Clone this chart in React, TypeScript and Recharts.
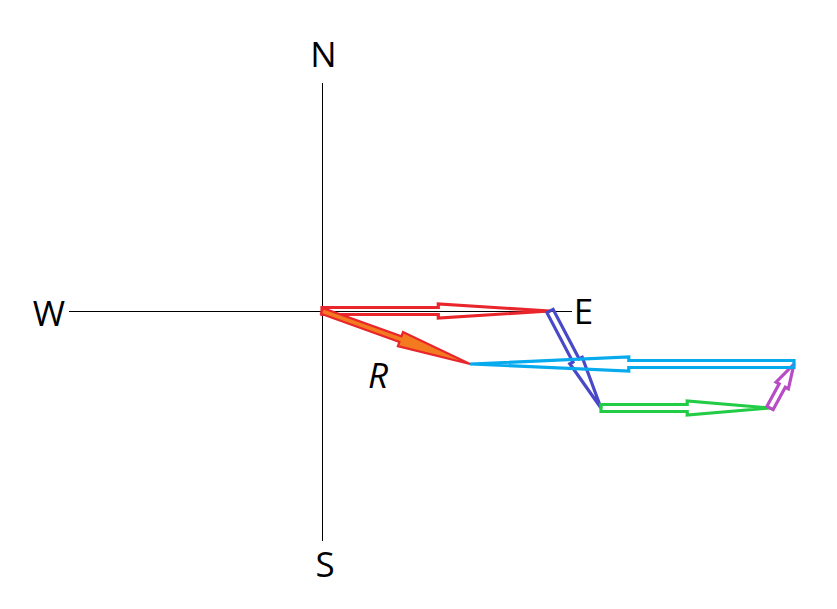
import { ScatterChart, Scatter, XAxis, YAxis, ReferenceLine } from "recharts";

// displacement vectors, chained head to tail (east +x, north +y)
const vectorNames = ["d1", "d2", "d3", "d4", "d5"];
const vectorDx = [22.8, 5.1, 16.9, 2.4, -32.4];
const vectorDy = [0, -9.7, 0, 4.4, 0];

// compass + resultant labels
const labelText = ["N", "S", "W", "E", "R"];
const labelX = [0.15, 0.3, -27.3, 26.15, 5.6];
const labelY = [25.75, -25.2, -0.15, 0.1, -6.3];

const colors = ["#e8262c", "#4848c8", "#22cc44", "#b84cc4", "#08aaee"];

// build chain of tail/tip points from the vectors
let cx = 0;
let cy = 0;
const chain = vectorNames.map((name, i) => {
  const tail = { x: cx, y: cy };
  cx += vectorDx[i];
  cy += vectorDy[i];
  return { name, data: [tail, { x: cx, y: cy }], color: colors[i] };
});
const resultant = [
  { x: 0, y: 0 },
  { x: cx, y: cy },
];

const labels = labelText.map((text, i) => ({ x: labelX[i], y: labelY[i], text }));

type Pt = { x: number; y: number };

const arrowPath = (a: Pt, b: Pt, shaftW: number, headW: number, headFrac: number) => {
  const dx = b.x - a.x;
  const dy = b.y - a.y;
  const len = Math.hypot(dx, dy) || 1;
  const ux = dx / len;
  const uy = dy / len;
  const nx = -uy;
  const ny = ux;
  const sx = a.x + ux * len * (1 - headFrac);
  const sy = a.y + uy * len * (1 - headFrac);
  const pts = [
    [a.x + nx * shaftW, a.y + ny * shaftW],
    [sx + nx * shaftW, sy + ny * shaftW],
    [sx + nx * headW, sy + ny * headW],
    [b.x, b.y],
    [sx - nx * headW, sy - ny * headW],
    [sx - nx * shaftW, sy - ny * shaftW],
    [a.x - nx * shaftW, a.y - ny * shaftW],
  ];
  return "M" + pts.map((p) => p[0].toFixed(2) + "," + p[1].toFixed(2)).join("L") + "Z";
};

const NoDot = () => <g />;

const App = () => {
  return (
    <div style={{ position: "absolute", left: 0, top: 0 }}>
      <ScatterChart width={837} height={609} margin={{ top: 0, right: 0, bottom: 0, left: 0 }}>
        <XAxis type="number" dataKey="x" domain={[-32.2, 51.5]} allowDataOverflow hide />
        <YAxis type="number" dataKey="y" domain={[-29.8, 31.1]} allowDataOverflow hide />
        <ReferenceLine
          segment={[{ x: 0, y: 22.8 }, { x: 0, y: -23 }]}
          stroke="#000"
          strokeWidth={1}
          shapeRendering="crispEdges"
        />
        <ReferenceLine
          segment={[{ x: -25.3, y: 0 }, { x: 25, y: 0 }]}
          stroke="#000"
          strokeWidth={1}
          shapeRendering="crispEdges"
        />
        {chain.map((v) => (
          <Scatter
            key={v.name}
            data={v.data}
            shape={NoDot}
            isAnimationActive={false}
            line={(p: any) => (
              <path
                d={arrowPath(p.points[0], p.points[1], 3.5, 7, 0.49)}
                fill="#fff"
                fillOpacity={0}
                stroke={v.color}
                strokeWidth={3.2}
                strokeLinejoin="miter"
                strokeMiterlimit={3}
              />
            )}
          />
        ))}
        <Scatter
          data={resultant}
          shape={NoDot}
          isAnimationActive={false}
          line={(p: any) => (
            <path
              d={arrowPath(p.points[0], p.points[1], 3, 7.5, 0.47)}
              fill="#f47a20"
              stroke="#e8262c"
              strokeWidth={2.2}
              strokeMiterlimit={3}
            />
          )}
        />
        <Scatter
          data={labels}
          isAnimationActive={false}
          shape={(p: any) => (
            <text
              x={p.cx}
              y={p.cy}
              textAnchor="middle"
              dominantBaseline="central"
              fontFamily="'Open Sans', sans-serif"
              fontSize={35}
              fontStyle={p.payload.text === "R" ? "italic" : "normal"}
              fill="#000"
            >
              {p.payload.text}
            </text>
          )}
        />
      </ScatterChart>
    </div>
  );
};

export default App;
